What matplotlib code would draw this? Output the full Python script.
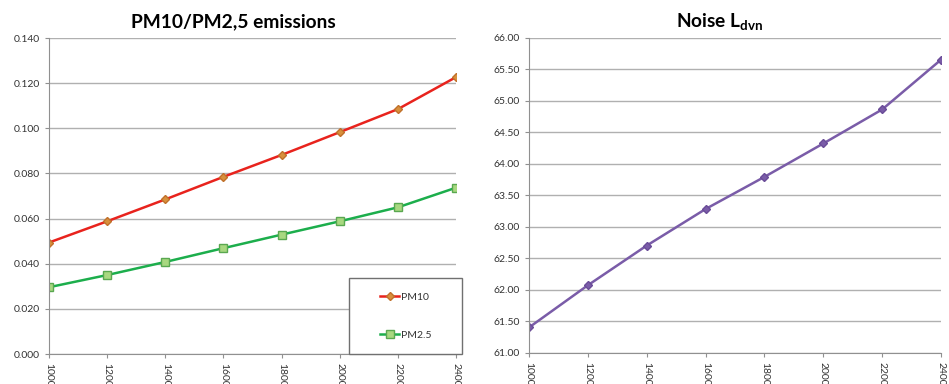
import matplotlib.pyplot as plt
from matplotlib.patches import Rectangle

plt.rcParams['font.family'] = ['Lato', 'DejaVu Sans']

traffic = [1000, 1200, 1400, 1600, 1800, 2000, 2200, 2400]
pm10 = [0.0494, 0.0588, 0.0685, 0.0785, 0.0882, 0.0983, 0.1085, 0.1227]
pm25 = [0.0296, 0.0350, 0.0408, 0.0469, 0.0529, 0.0588, 0.0650, 0.0737]
noise = [61.40, 62.07, 62.70, 63.28, 63.79, 64.32, 64.86, 65.65]

fig = plt.figure(figsize=(9.49, 3.84), dpi=100)
ax1 = fig.add_axes([0.0516, 0.078, 0.429, 0.823])
ax2 = fig.add_axes([0.5574, 0.0815, 0.4342, 0.8205])


def style(ax):
    ax.grid(axis='y', color='#b0b0b0', linewidth=1)
    ax.set_axisbelow(True)
    for s in ['top', 'right']:
        ax.spines[s].set_visible(False)
    for s in ['left', 'bottom']:
        ax.spines[s].set_color('#909090')
    ax.tick_params(axis='both', colors='#909090', labelcolor='#333333',
                   labelsize=7.5, length=3)
    ax.set_xticks(traffic)
    ax.set_xticklabels([str(t) for t in traffic], rotation=-90, va='top')
    ax.set_xlim(traffic[0], traffic[-1])


ax1.plot(traffic, pm10, color='#e8231d', lw=1.8, marker='D', ms=4.5,
         mfc='#d8903c', mec='#c0702a', label='PM10')
ax1.plot(traffic, pm25, color='#1cae4c', lw=1.8, marker='s', ms=6,
         mfc='#a8d880', mec='#5aa850', label='PM2.5')
ax1.set_ylim(0, 0.14)
ax1.set_yticks([0, 0.02, 0.04, 0.06, 0.08, 0.1, 0.12, 0.14])
ax1.yaxis.set_major_formatter(lambda v, p: f'{v:.3f}')
style(ax1)
fig.text(233 / 949, 0.943, 'PM10/PM2,5 emissions', fontsize=13.8,
         fontweight='bold', ha='center', va='center')

# legend box drawn separately so the entries sit centred in it
ax1.add_patch(Rectangle((0.737, 0.0), 0.278, 0.24, transform=ax1.transAxes,
                        facecolor='white', edgecolor='#707070', lw=1,
                        clip_on=False, zorder=4))
leg = ax1.legend(loc='center', bbox_to_anchor=(0.876, 0.12), fontsize=7.5,
                 frameon=False, labelspacing=2.8, handlelength=1.9,
                 handletextpad=0.15)
leg.set_zorder(5)
for t in leg.get_texts():
    t.set_color('#333333')

ax2.plot(traffic, noise, color='#7a5ca8', lw=1.8, marker='D', ms=4.5,
         mfc='#7a5ca8', mec='#6a4c98')
ax2.set_ylim(61, 66)
ax2.set_yticks([61, 61.5, 62, 62.5, 63, 63.5, 64, 64.5, 65, 65.5, 66])
ax2.yaxis.set_major_formatter(lambda v, p: f'{v:.2f}')
style(ax2)
fig.text(720 / 949, 0.943, r'Noise L$_{\mathregular{dvn}}$', fontsize=13.8,
         fontweight='bold', ha='center', va='center')

fig.savefig('out.png', dpi=100)
